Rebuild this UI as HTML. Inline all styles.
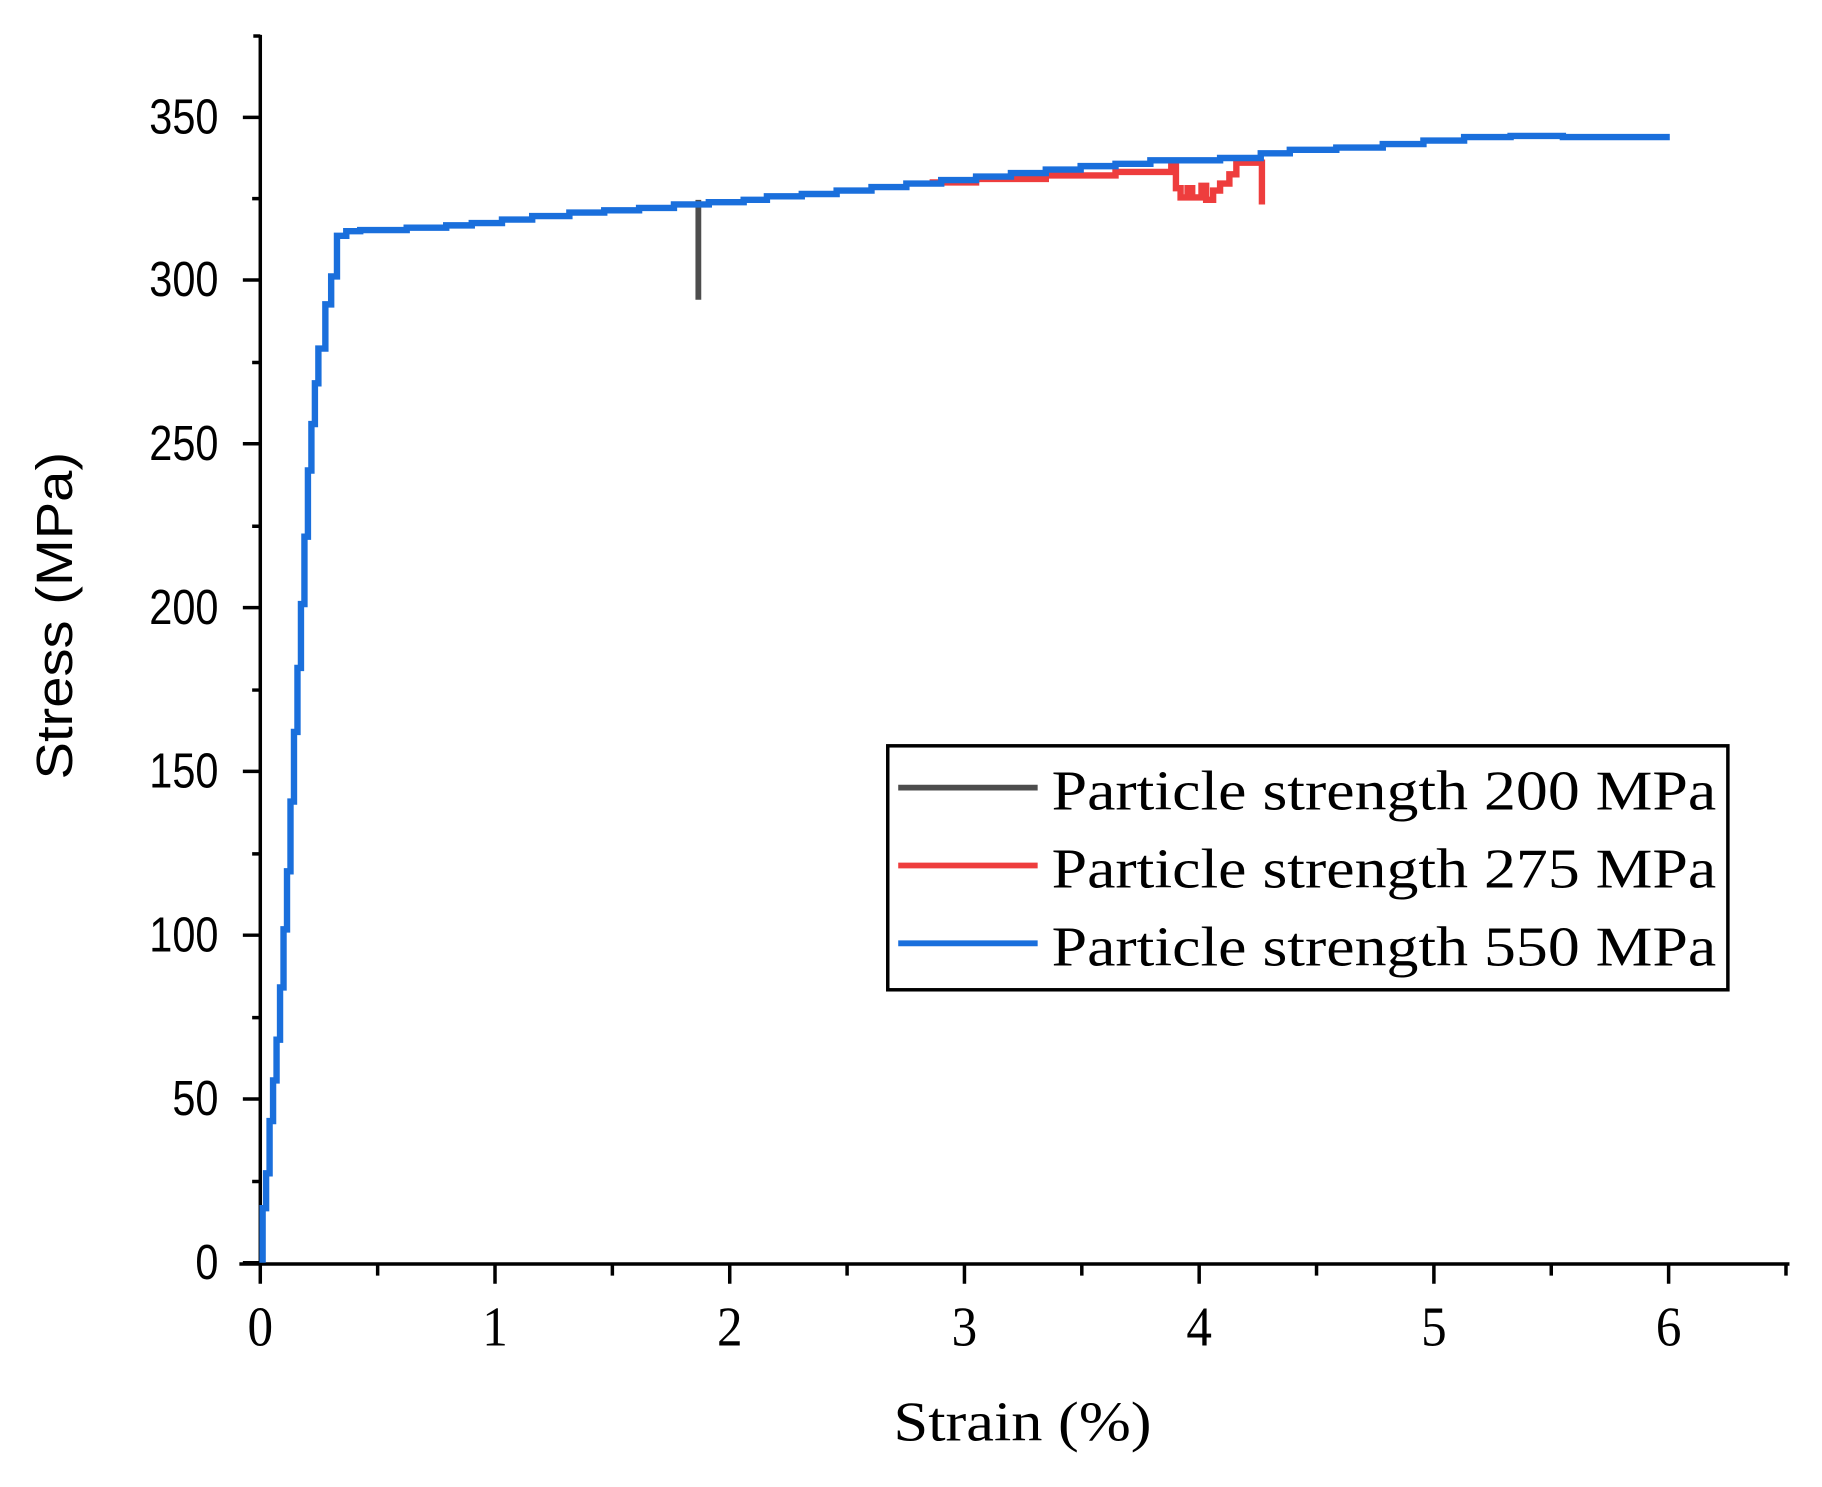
<!DOCTYPE html>
<html><head><meta charset="utf-8"><style>
html,body{margin:0;padding:0;background:#fff;}
svg{display:block;}
</style></head><body>
<svg width="1822" height="1487" viewBox="0 0 1568 1280" preserveAspectRatio="none" xmlns="http://www.w3.org/2000/svg">
<rect width="1568" height="1280" fill="#fff"/>
<g stroke="#000" stroke-width="3" fill="none">
<line x1="224" y1="30" x2="224" y2="1088"/>
<line x1="206" y1="1088" x2="1540" y2="1088"/>
<line x1="218" y1="31" x2="224" y2="31"/>
<path d="M209 1087H224 M209 946H224 M209 805H224 M209 664H224 M209 523H224 M209 382H224 M209 241H224 M209 101H224"/>
<path d="M217 1017H224 M217 876H224 M217 735H224 M217 594H224 M217 453H224 M217 312H224 M217 171H224"/>
<path d="M224 1088V1105 M426 1088V1105 M628 1088V1105 M830 1088V1105 M1032 1088V1105 M1234 1088V1105 M1436 1088V1105"/>
<path d="M325 1088V1098 M527 1088V1098 M729 1088V1098 M931 1088V1098 M1133 1088V1098 M1335 1088V1098 M1537 1088V1098"/>
</g>
<g font-family="Liberation Sans, sans-serif" font-size="42" fill="#000" text-anchor="end">
<text x="188" y="1101" transform="translate(188 0) scale(0.85 1) translate(-188 0)">0</text>
<text x="188" y="960" transform="translate(188 0) scale(0.85 1) translate(-188 0)">50</text>
<text x="188" y="819" transform="translate(188 0) scale(0.85 1) translate(-188 0)">100</text>
<text x="188" y="678" transform="translate(188 0) scale(0.85 1) translate(-188 0)">150</text>
<text x="188" y="537" transform="translate(188 0) scale(0.85 1) translate(-188 0)">200</text>
<text x="188" y="396" transform="translate(188 0) scale(0.85 1) translate(-188 0)">250</text>
<text x="188" y="255" transform="translate(188 0) scale(0.85 1) translate(-188 0)">300</text>
<text x="188" y="115" transform="translate(188 0) scale(0.85 1) translate(-188 0)">350</text>
</g>
<g font-family="Liberation Serif, serif" font-size="44" fill="#000" text-anchor="middle">
<text x="224" y="1158" transform="translate(0 1158) scale(1 1.1) translate(0 -1158)">0</text>
<text x="426" y="1158" transform="translate(0 1158) scale(1 1.1) translate(0 -1158)">1</text>
<text x="628" y="1158" transform="translate(0 1158) scale(1 1.1) translate(0 -1158)">2</text>
<text x="830" y="1158" transform="translate(0 1158) scale(1 1.1) translate(0 -1158)">3</text>
<text x="1032" y="1158" transform="translate(0 1158) scale(1 1.1) translate(0 -1158)">4</text>
<text x="1234" y="1158" transform="translate(0 1158) scale(1 1.1) translate(0 -1158)">5</text>
<text x="1436" y="1158" transform="translate(0 1158) scale(1 1.1) translate(0 -1158)">6</text>
<text x="880" y="1240" font-size="48" textLength="222" lengthAdjust="spacingAndGlyphs">Strain (%)</text>
</g>
<text transform="translate(62 530) rotate(-90)" font-family="Liberation Sans, sans-serif" font-size="44" text-anchor="middle" textLength="282" lengthAdjust="spacingAndGlyphs">Stress (MPa)</text>
<path d="M601 172V258" stroke="#4d4d4d" stroke-width="5" fill="none"/>
<path d="M800 157H840V154H900V151H960V148H1008V140H1012V162H1016V170H1022V162H1026V170H1034V160H1038V172H1044V164H1050V158H1058V150H1064V140H1086V176" stroke="#ee3d3d" stroke-width="5.5" fill="none"/>
<path d="M226 1087V1040H229V1010H232V965H235V930H238V895H241V850H244V800H247V750H250V690H253V630H256V575H259V520H262V462H265V405H268V365H271V330H274V300H280V262H285V238H290V203H298V199H310V198H350V196H384V194H406V192H432V189H458V186H490V183H520V181H550V179H580V176H610V174H640V172H660V169H690V167H720V164H750V161H780V158H810V155H840V152H870V149H900V146H930V143H960V141H990V138H1050V136H1085V132H1110V129H1150V127H1190V124H1225V121H1260V118H1300V117H1345V118H1437" stroke="#1a6fdc" stroke-width="5.5" fill="none"/>
<rect x="764" y="642" width="723" height="210" fill="#fff" stroke="#000" stroke-width="3"/>
<line x1="773" y1="678" x2="893" y2="678" stroke="#4d4d4d" stroke-width="5"/>
<line x1="773" y1="745" x2="893" y2="745" stroke="#ee3d3d" stroke-width="5"/>
<line x1="773" y1="812" x2="893" y2="812" stroke="#1a6fdc" stroke-width="5"/>
<g font-family="Liberation Serif, serif" font-size="48" fill="#000">
<text x="905" y="697" textLength="572" lengthAdjust="spacingAndGlyphs">Particle strength 200 MPa</text>
<text x="905" y="764" textLength="572" lengthAdjust="spacingAndGlyphs">Particle strength 275 MPa</text>
<text x="905" y="831" textLength="572" lengthAdjust="spacingAndGlyphs">Particle strength 550 MPa</text>
</g>
</svg>
</body></html>
